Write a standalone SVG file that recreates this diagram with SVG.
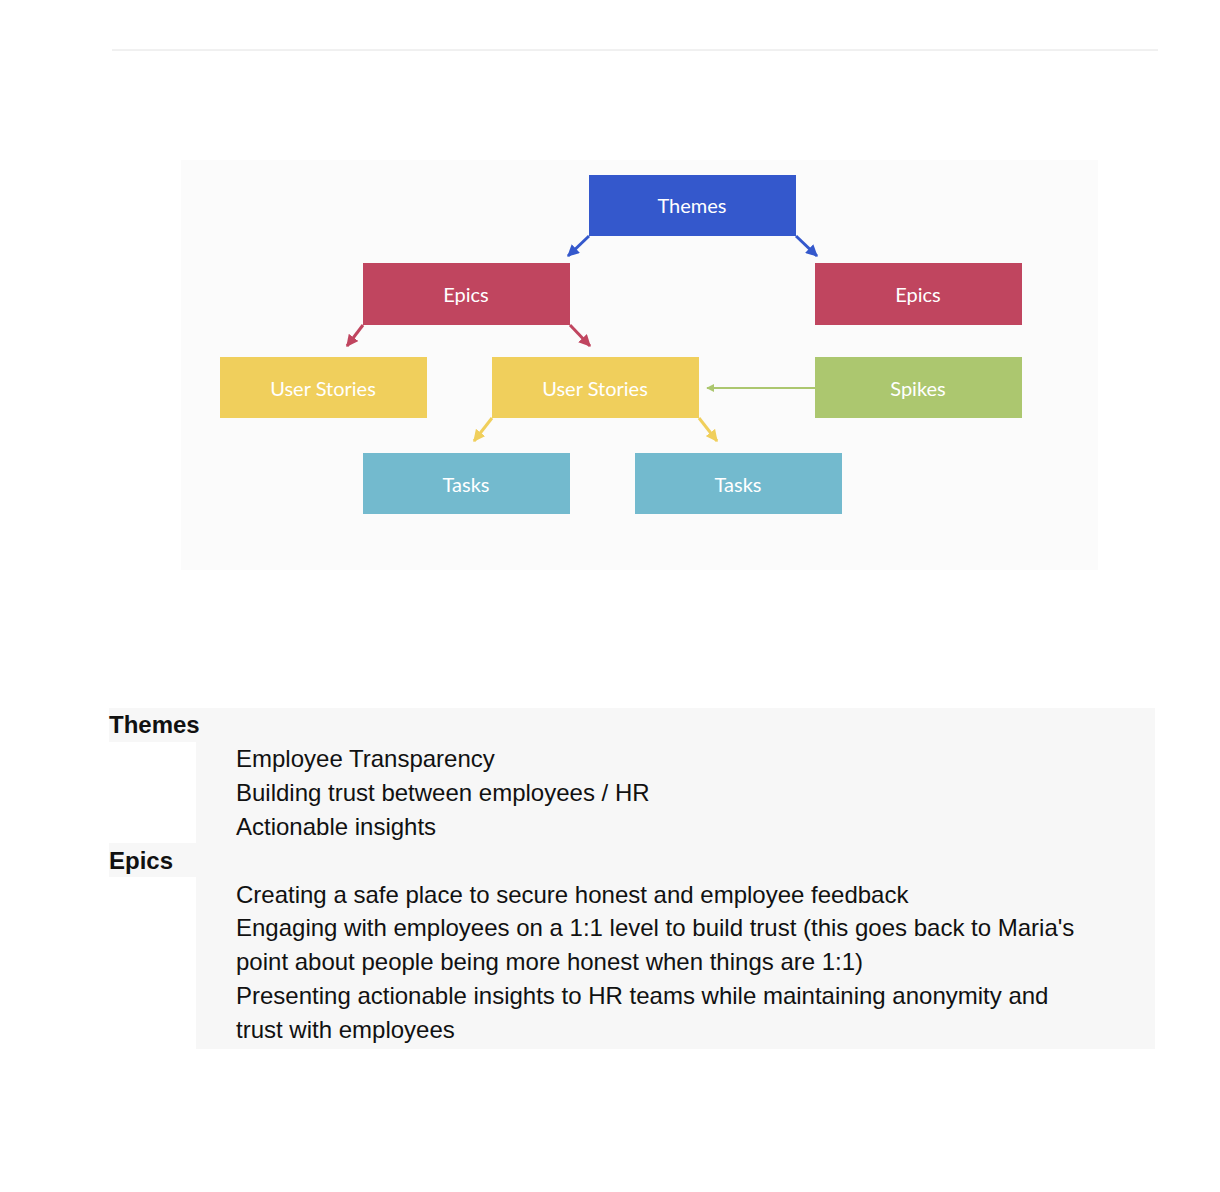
<svg xmlns="http://www.w3.org/2000/svg" width="1220" height="1192" viewBox="0 0 1220 1192">
<style>
.n{font-family:Lato,"Open Sans",sans-serif;font-size:20px;fill:#fff;text-anchor:middle}
.t{font-family:"Liberation Sans",Arial,sans-serif;font-size:24px;fill:#111}
.h{font-family:"Liberation Sans",Arial,sans-serif;font-size:24px;font-weight:bold;fill:#111}
</style>
<defs>
<marker id="mb" viewBox="0 0 10 10" refX="9" refY="5" markerWidth="4" markerHeight="4" orient="auto"><path d="M0,0L10,5L0,10z" fill="#3458cc"/></marker>
<marker id="mr" viewBox="0 0 10 10" refX="9" refY="5" markerWidth="4" markerHeight="4" orient="auto"><path d="M0,0L10,5L0,10z" fill="#c0455f"/></marker>
<marker id="my" viewBox="0 0 10 10" refX="9" refY="5" markerWidth="4" markerHeight="4" orient="auto"><path d="M0,0L10,5L0,10z" fill="#f0cf5c"/></marker>
<marker id="mg" viewBox="0 0 10 10" refX="9" refY="5" markerWidth="4" markerHeight="4" orient="auto"><path d="M0,0L10,5L0,10z" fill="#acc76f"/></marker>
</defs>
<rect width="1220" height="1192" fill="#fff"/>
<line x1="112" y1="50" x2="1158" y2="50" stroke="#e2e2e2"/>
<rect x="181" y="160" width="917" height="410" fill="#fbfbfb"/>
<g id="connectors" stroke-width="3" fill="none">
<line x1="589" y1="236" x2="568" y2="256" stroke="#3458cc" marker-end="url(#mb)"/>
<line x1="796" y1="236" x2="817" y2="256" stroke="#3458cc" marker-end="url(#mb)"/>
<line x1="363" y1="325" x2="347" y2="346" stroke="#c0455f" marker-end="url(#mr)"/>
<line x1="570" y1="325" x2="590" y2="346" stroke="#c0455f" marker-end="url(#mr)"/>
<line x1="492" y1="418" x2="474" y2="441" stroke="#f0cf5c" marker-end="url(#my)"/>
<line x1="699" y1="418" x2="717" y2="441" stroke="#f0cf5c" marker-end="url(#my)"/>
<line x1="815" y1="388" x2="707" y2="388" stroke="#acc76f" stroke-width="2" marker-end="url(#mg)"/>
</g>
<g id="themes"><rect x="589" y="175" width="207" height="61" fill="#3458cc"/><text class="n" x="692" y="213">Themes</text></g>
<g id="epics1"><rect x="363" y="263" width="207" height="62" fill="#c0455f"/><text class="n" x="466" y="302">Epics</text></g>
<g id="epics2"><rect x="815" y="263" width="207" height="62" fill="#c0455f"/><text class="n" x="918" y="302">Epics</text></g>
<g id="us1"><rect x="220" y="357" width="207" height="61" fill="#f0cf5c"/><text class="n" x="323" y="396">User Stories</text></g>
<g id="us2"><rect x="492" y="357" width="207" height="61" fill="#f0cf5c"/><text class="n" x="595" y="396">User Stories</text></g>
<g id="spikes"><rect x="815" y="357" width="207" height="61" fill="#acc76f"/><text class="n" x="918" y="396">Spikes</text></g>
<g id="tasks1"><rect x="363" y="453" width="207" height="61" fill="#73bace"/><text class="n" x="466" y="492">Tasks</text></g>
<g id="tasks2"><rect x="635" y="453" width="207" height="61" fill="#73bace"/><text class="n" x="738" y="492">Tasks</text></g>
<g fill="#f7f7f7">
<rect x="109" y="708" width="1046" height="34"/>
<rect x="196" y="742" width="959" height="101"/>
<rect x="109" y="843" width="1046" height="34"/>
<rect x="196" y="877" width="959" height="172"/>
</g>
<text class="h" x="109" y="733">Themes</text>
<text class="t" x="236" y="767">Employee Transparency</text>
<text class="t" x="236" y="801">Building trust between employees / HR</text>
<text class="t" x="236" y="835">Actionable insights</text>
<text class="h" x="109" y="869">Epics</text>
<text class="t" x="236" y="903">Creating a safe place to secure honest and employee feedback</text>
<text class="t" x="236" y="936">Engaging with employees on a 1:1 level to build trust (this goes back to Maria's</text>
<text class="t" x="236" y="970">point about people being more honest when things are 1:1)</text>
<text class="t" x="236" y="1004">Presenting actionable insights to HR teams while maintaining anonymity and</text>
<text class="t" x="236" y="1038">trust with employees</text>
</svg>
